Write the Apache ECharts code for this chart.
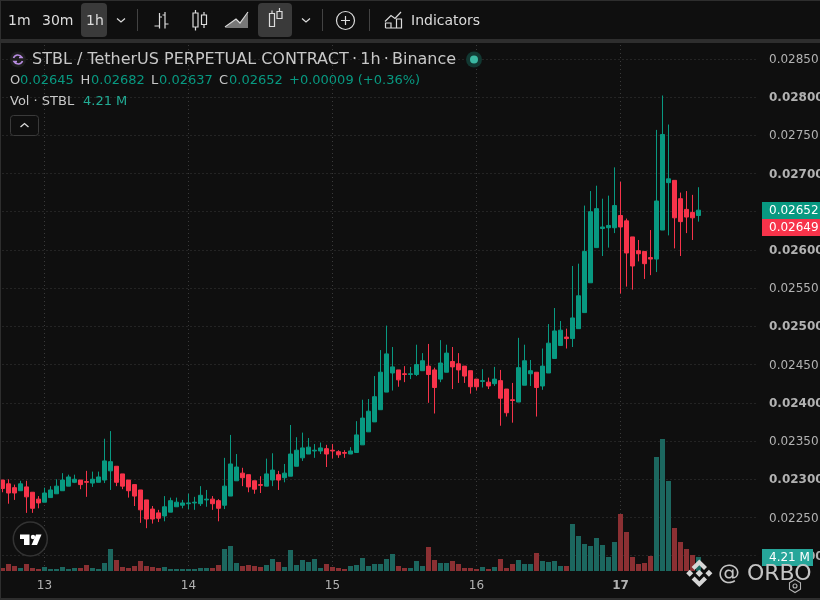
<!DOCTYPE html>
<html><head><meta charset="utf-8">
<style>html,body{margin:0;padding:0;background:#0f0f0f}#c{width:820px;height:600px}</style>
<script src="https://cdn.jsdelivr.net/npm/echarts@6/dist/echarts.min.js"></script>
</head><body><div id="c"></div>
<script>
const opens=[0.02299,0.02294,0.02289,0.02285,0.02290,0.02283,0.02274,0.02270,0.02276,0.02281,
0.02285,0.02291,0.02296,0.02299,0.02297,0.02295,0.02296,0.02299,0.02311,0.02317,
0.02307,0.02299,0.02293,0.02286,0.02273,0.02261,0.02256,0.02252,0.02257,0.02264,
0.02266,0.02268,0.02269,0.02268,0.02273,0.02274,0.02272,0.02266,0.02278,0.02298,
0.02308,0.02306,0.02298,0.02293,0.02291,0.02299,0.02306,0.02302,0.02304,0.02317,
0.02328,0.02333,0.02337,0.02337,0.02340,0.02338,0.02336,0.02335,0.02333,0.02335,
0.02345,0.02362,0.02375,0.02391,0.02414,0.02439,0.02443,0.02438,0.02437,0.02437,
0.02442,0.02448,0.02443,0.02431,0.02440,0.02454,0.02451,0.02448,0.02442,0.02431,
0.02428,0.02427,0.02425,0.02429,0.02418,0.02404,0.02401,0.02423,0.02438,0.02440,
0.02422,0.02439,0.02458,0.02475,0.02486,0.02484,0.02497,0.02518,0.02557,0.02603,
0.02628,0.02629,0.02629,0.02645,0.02638,0.02617,0.02599,0.02598,0.02590,0.02588,
0.02626,0.02688,0.02691,0.02667,0.02653,0.02649,0.02645];
const closes=[0.02288,0.02282,0.02282,0.02294,0.02277,0.02262,0.02269,0.02282,0.02286,0.02291,
0.02299,0.02303,0.02300,0.02293,0.02296,0.02300,0.02303,0.02324,0.02323,0.02296,
0.02291,0.02285,0.02278,0.02260,0.02248,0.02248,0.02249,0.02264,0.02272,0.02270,
0.02269,0.02269,0.02270,0.02279,0.02274,0.02268,0.02262,0.02291,0.02320,0.02316,
0.02302,0.02290,0.02287,0.02292,0.02307,0.02312,0.02299,0.02308,0.02333,0.02338,
0.02341,0.02342,0.02338,0.02341,0.02333,0.02337,0.02332,0.02334,0.02337,0.02358,
0.02380,0.02389,0.02408,0.02440,0.02464,0.02447,0.02430,0.02437,0.02438,0.02450,
0.02455,0.02437,0.02420,0.02452,0.02465,0.02447,0.02443,0.02435,0.02421,0.02421,
0.02429,0.02422,0.02431,0.02406,0.02387,0.02403,0.02446,0.02455,0.02442,0.02420,
0.02448,0.02478,0.02494,0.02495,0.02484,0.02511,0.02540,0.02598,0.02650,0.02654,
0.02630,0.02632,0.02658,0.02630,0.02596,0.02579,0.02595,0.02582,0.02588,0.02664,
0.02751,0.02693,0.02642,0.02637,0.02643,0.02642,0.02652];
const lows=[0.02283,0.02268,0.02273,0.02285,0.02256,0.02256,0.02262,0.02270,0.02276,0.02281,
0.02285,0.02291,0.02295,0.02287,0.02277,0.02290,0.02296,0.02295,0.02286,0.02291,
0.02287,0.02276,0.02265,0.02243,0.02236,0.02242,0.02244,0.02245,0.02257,0.02264,
0.02262,0.02261,0.02260,0.02265,0.02264,0.02260,0.02245,0.02261,0.02278,0.02298,
0.02291,0.02283,0.02281,0.02282,0.02291,0.02291,0.02286,0.02296,0.02304,0.02317,
0.02324,0.02333,0.02328,0.02333,0.02316,0.02327,0.02328,0.02328,0.02333,0.02335,
0.02345,0.02362,0.02375,0.02391,0.02414,0.02416,0.02421,0.02427,0.02431,0.02435,
0.02442,0.02400,0.02386,0.02427,0.02440,0.02418,0.02426,0.02426,0.02412,0.02416,
0.02420,0.02418,0.02422,0.02370,0.02382,0.02374,0.02401,0.02423,0.02422,0.02382,
0.02417,0.02439,0.02458,0.02475,0.02471,0.02473,0.02497,0.02518,0.02557,0.02603,
0.02592,0.02603,0.02622,0.02543,0.02552,0.02548,0.02585,0.02562,0.02567,0.02571,
0.02626,0.02619,0.02602,0.02592,0.02622,0.02613,0.02637];
const highs=[0.02299,0.02300,0.02293,0.02298,0.02298,0.02283,0.02278,0.02289,0.02291,0.02300,
0.02308,0.02306,0.02306,0.02299,0.02311,0.02310,0.02310,0.02353,0.02363,0.02317,
0.02307,0.02299,0.02293,0.02286,0.02273,0.02265,0.02260,0.02278,0.02276,0.02276,
0.02273,0.02281,0.02277,0.02291,0.02286,0.02278,0.02274,0.02328,0.02358,0.02333,
0.02315,0.02306,0.02298,0.02304,0.02327,0.02334,0.02311,0.02320,0.02371,0.02355,
0.02361,0.02354,0.02346,0.02348,0.02345,0.02346,0.02338,0.02338,0.02342,0.02376,
0.02404,0.02405,0.02435,0.02469,0.02501,0.02473,0.02443,0.02448,0.02447,0.02476,
0.02465,0.02477,0.02446,0.02482,0.02476,0.02473,0.02465,0.02448,0.02442,0.02431,
0.02444,0.02433,0.02447,0.02443,0.02418,0.02426,0.02485,0.02476,0.02456,0.02440,
0.02471,0.02503,0.02524,0.02507,0.02497,0.02579,0.02582,0.02658,0.02677,0.02684,
0.02667,0.02671,0.02708,0.02689,0.02641,0.02617,0.02613,0.02598,0.02626,0.02757,
0.02802,0.02764,0.02691,0.02675,0.02677,0.02672,0.02682];
const volumes=[0.9,2.1,1.5,0.9,2.1,0.9,0.6,1.2,0.6,0.6,
1.2,0.6,0.9,0.9,1.8,0.9,0.6,2.4,6.6,3.3,
1.2,0.9,1.5,3.0,1.5,1.2,0.9,1.2,0.6,0.6,
0.6,0.6,0.6,0.9,0.9,0.9,1.8,6.6,7.5,2.4,
1.5,1.8,1.5,1.2,1.8,3.6,2.7,1.2,6.3,1.8,
3.3,2.7,3.6,0.9,2.1,1.2,0.9,0.6,1.5,1.8,
3.9,1.5,2.1,2.1,3.6,5.1,1.5,0.9,0.9,3.0,
1.5,7.2,3.3,2.4,2.4,3.0,2.1,0.9,0.9,0.6,
1.2,0.6,1.2,3.6,0.9,2.1,3.3,2.1,2.1,5.4,
3.0,2.7,3.0,1.5,1.5,14.1,10.5,8.1,7.5,9.9,
7.8,4.2,8.7,17.1,11.7,4.2,2.1,2.4,4.5,34.2,
39.6,27,12.9,8.7,6.6,4.8,4.21];
const dayLabels=['13','14','15','16','17'];
const dayIndices=[7,31,55,79,103];
const emptySlots=10;

const UP='#089981',DOWN='#f7334a',VUP='#1c675f',VDOWN='#8b3033',BG='#0f0f0f';
const GRID='#3a3a3a',AXT='#b2b2b2',FONT='"DejaVu Sans"';
const cats=[];
for(let i=0;i<opens.length+emptySlots;i++){const k=dayIndices.indexOf(i);cats.push(k>=0?dayLabels[k]:'h'+i);}
const isDay=(i)=>dayIndices.indexOf(i)>=0;
const candles=opens.map((o,i)=>[o,closes[i],lows[i],highs[i]]);

const g=[];
let pathCount=0;
const rect=(x,y,w,h,fill,r,stroke)=>g.push({type:'rect',z:50,silent:true,shape:{x,y,width:w,height:h,r:r||0},style:{fill:fill||'none',stroke:stroke||null,lineWidth:1}});
const text=(t,x,y,fill,size,opt)=>g.push({type:'text',z:60,silent:true,style:Object.assign({text:t,x,y,fill,font:(opt&&opt.weight||'normal')+' '+size+'px '+FONT,align:'left',verticalAlign:'middle'},opt||{})});
const path=(d,stroke,fill,w)=>{const name='chromePath'+(pathCount++);
  echarts.graphic.registerShape(name,echarts.graphic.extendPath(d,{}));
  g.push({type:name,z:55,silent:true,style:{stroke:stroke||null,fill:fill||'none',lineWidth:w||1}});};
const circle=(cx,cy,r,fill,stroke,w)=>g.push({type:'circle',z:55,silent:true,shape:{cx,cy,r},style:{fill:fill||'none',stroke:stroke||null,lineWidth:w||1}});
const IC='#dcdcdc';

// frame
rect(0,0,820,1,'#2e2e2e');
rect(0,39,820,4,'#2e2e2e');
rect(0,0,1,600,'#2e2e2e');
rect(0,598,820,2,'#2e2e2e');
// toolbar
rect(81,3,26,34,'#3a3a3a',4);
rect(258,3,34,34,'#3a3a3a',4);
text('1m',8,21,IC,14);
text('30m',42,21,IC,14);
text('1h',86,21,IC,14);
path('M117 18.500l4 3.500l4-3.500',IC,null,1.2);
rect(137,9,1,22,'#434343');
path('M159.500 13V28.500M159.500 26H154.500M159.500 17H162M165 12V28.500M165 24H168.500M165 15H162.500',IC,null,1.2);
path('M195.500 10V13M195.500 27V30.500M193 13H198V27H193ZM204 12V15M204 24.500V28M201.500 15H206.500V24.500H201.500Z',IC,null,1.2);
path('M225 28L236 19L240 23L248 13V28Z',null,'#777');
path('M225 27L236 19L240 23L248 12',IC,null,1.2);
path('M272 13.500V10.500M269.500 13.500H274.500V26.500H269.500Z',IC,null,1.2);
path('M279.500 11.500V8M277 11.500H282V18.500H277Z',IC,null,1.2);
path('M302 18.500l4 3.500l4-3.500',IC,null,1.2);
rect(322,9,1,22,'#434343');
circle(345.500,20.500,9,null,IC,1.2);
path('M345.500 16V25M341 20.500H350',IC,null,1.2);
rect(369,9,1,22,'#434343');
path('M385.500 28H401.500V19H396.500V28M391 28V23H385.500V28M391 28H396.500V23',IC,null,1.2);
path('M385 21.500L391 15.500L395 18.500L401 12',IC,null,1.2);
text('Indicators',411,21,IC,14);
// legend
circle(18,59.500,8,'#1e1e1e');
path('M13.500 58C15 54 20 54 22 57.500H19M22.500 61C21 65 16 65 14 61.500H17','#b78be0',null,1.6);
text('STBL / TetherUS PERPETUAL CONTRACT\u2009·\u20091h\u2009·\u2009Binance',32,60,'#c8c8c8',16);
circle(474,59.500,8,'#123832');
circle(474,59.500,4,'#3bb8a2');
const lbl='#c8c8c8',val='#089981';
text('O',10,81,lbl,13);text('0.02645',20,81,val,13);
text('H',80.500,81,lbl,13);text('0.02682',91,81,val,13);
text('L',151,81,lbl,13);text('0.02637',159,81,val,13);
text('C',219,81,lbl,13);text('0.02652',229,81,val,13);
text('+0.00009 (+0.36%)',289,81,val,13);
text('Vol · STBL',10,101.500,lbl,13);
text('4.21 M',83,101.500,'#22ab94',13);
rect(10.500,115.500,28,20,BG,3,'#3a3a3a');
path('M20.500 127l4-3.500l4 3.500',IC,null,1.3);
// TradingView badge
circle(30.300,539,17,BG,'#333',1.500);
path('M20 534.500H29.500V545H24V539H20Z',null,'#fff');
circle(33,537,2.200,'#fff');
path('M36 534.500H41.500L37 545H31.500Z',null,'#fff');
// price tags
rect(762,202,58,17,UP);
text('0.02652',769,211,'#fff',12);
rect(762,219,58,17,'#f7334a');
text('0.02649',769,228,'#fff',12);
rect(762,549,51,17,'#26a69a');
text('4.21 M',769,557.500,'#fff',12);
// watermark
path('M699.300 559.500L707 567L704 570L699.300 565.300L694.600 570L691.600 567ZM699.300 587L707 579.500L704 576.500L699.300 581.200L694.600 576.500L691.600 579.500ZM699.300 569.800L703 573.300L699.300 577L695.600 573.300ZM689.700 569.800L693.200 573.300L689.700 576.800L686.200 573.300ZM708.900 569.800L712.400 573.300L708.900 576.800L705.400 573.300Z',null,'#d6d6d6');
text('@ ORBO',718,574.500,'#c4c4c4',22);
path('M795 579.500L800.500 582.800V589.200L795 592.500L789.500 589.200V582.800Z','#b2b2b2',null,1.1);
circle(795,586,2,null,'#b2b2b2',1.1);

const xLeft=2.5,xWidth=6*(cats.length-1);
const opt={
  animation:false,backgroundColor:BG,
  grid:[
    {left:xLeft,width:xWidth,top:58.8,height:496.9,outerBoundsMode:'none'},
    {left:xLeft,width:xWidth,top:41,height:530,outerBoundsMode:'none'}
  ],
  xAxis:[
    {type:'category',gridIndex:0,data:cats,boundaryGap:false,axisLine:{show:false},axisTick:{show:false},axisLabel:{show:false},splitLine:{show:false}},
    {type:'category',gridIndex:1,data:cats,boundaryGap:false,axisLine:{show:false},axisTick:{show:false},
      axisLabel:{interval:(i)=>isDay(i),margin:9,color:AXT,fontFamily:FONT,fontSize:12,
        formatter:(v,i)=>i===dayIndices[dayIndices.length-1]?'{b|'+v+'}':v,
        rich:{b:{fontWeight:'bold',color:AXT,fontFamily:FONT,fontSize:12}}},
      splitLine:{show:true,interval:(i)=>isDay(i),lineStyle:{color:GRID,type:[1,3],width:1}}}
  ],
  yAxis:[
    {type:'value',gridIndex:0,position:'right',min:0.022,max:0.0285,interval:0.0005,axisLine:{show:false},axisTick:{show:false},
      splitLine:{show:true,lineStyle:{color:GRID,type:[1,3],width:1}},
      axisLabel:{margin:10.5,padding:[2,0,0,0],color:AXT,fontFamily:FONT,fontSize:12,
        formatter:(v)=>{const s=v.toFixed(5);return Math.round(v*1e5)%100===0?'{b|'+s+'}':s;},
        rich:{b:{fontWeight:'bold',color:AXT,fontFamily:FONT,fontSize:12}}}},
    {type:'value',gridIndex:1,min:0,max:159,show:false,splitLine:{show:false}}
  ],
  series:[
    {type:'bar',name:'Vol',xAxisIndex:1,yAxisIndex:1,barWidth:5,clip:false,silent:true,z:1,
      data:volumes,itemStyle:{color:(p)=>closes[p.dataIndex]>=opens[p.dataIndex]?VUP:VDOWN}},
    {type:'candlestick',name:'STBL',xAxisIndex:0,yAxisIndex:0,barWidth:4,clip:false,silent:true,z:3,
      data:candles,
      itemStyle:{color:UP,color0:DOWN,borderColor:UP,borderColor0:DOWN,borderWidth:1},
      markLine:{silent:true,symbol:'none',label:{show:false},animation:false,
        lineStyle:{color:UP,type:[2,3],width:1.5},
        data:[{yAxis:closes[closes.length-1]}]}}
  ],
  graphic:{elements:g}
};
const chart=echarts.init(document.getElementById('c'),null,{renderer:'canvas',width:820,height:600});
chart.setOption(opt);
</script></body></html>
